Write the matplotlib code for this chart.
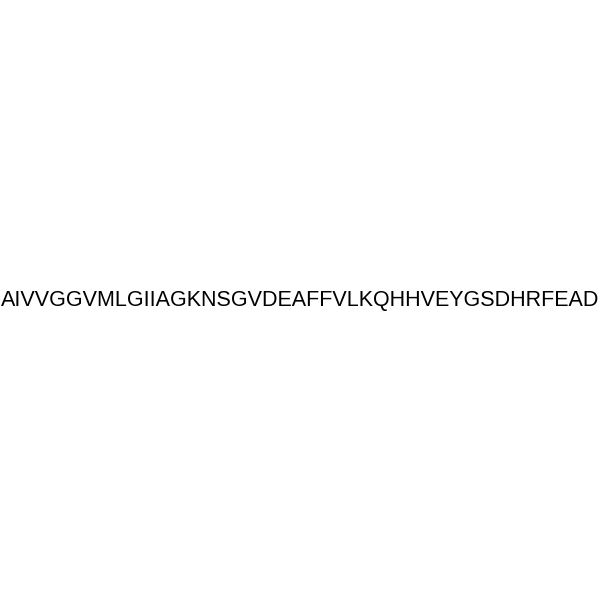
import matplotlib.pyplot as plt

sequence = "AIVVGGVMLGIIAGKNSGVDEAFFVLKQHHVEYGSDHRFEAD"

fig = plt.figure(figsize=(6, 6), dpi=100)
fig.patch.set_facecolor("white")

# peptide sequence drawn as one line across the middle of the page
fig.text(0.5, 1 - 306 / 600, sequence, ha="center", va="baseline",
         fontsize=15.5, family="Liberation Sans", color="black")

fig.savefig("out.png", dpi=100, facecolor="white")
